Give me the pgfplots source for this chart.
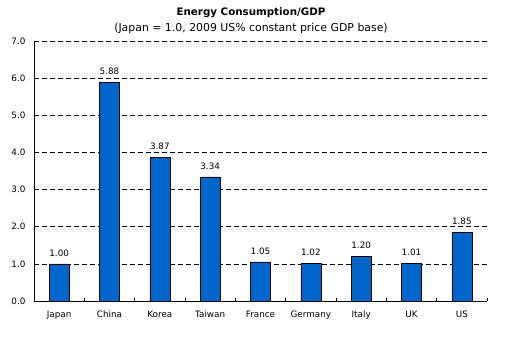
\documentclass[border=0pt]{standalone}
\usepackage{pgfplots}
\pgfplotsset{compat=1.18}
\usepackage{fontspec}
\setmainfont{DejaVu Sans}
\definecolor{barblue}{HTML}{0066CC}
\begin{document}
\begin{tikzpicture}[x=1pt,y=1pt]
\useasboundingbox (0,0) rectangle (514,344);
\node[font=\bfseries\fontsize{10.3}{11}\selectfont] at (251,331) {Energy Consumption/GDP};
\node[font=\fontsize{10.9}{12}\selectfont] at (251,315.5) {(Japan = 1.0, 2009 US\% constant price GDP base)};
\begin{axis}[
  at={(34pt,43pt)}, anchor=south west,
  scale only axis, width=453pt, height=260pt,
  xmin=-0.5, xmax=8.5, ymin=0, ymax=7,
  axis x line*=bottom, axis y line*=left,
  axis line style={black, line width=0.8pt, -},
  xtick={0,...,8},
  xticklabels={Japan,China,Korea,Taiwan,France,Germany,Italy,UK,US},
  major x tick style={draw=none},
  minor xtick={0.5,1.5,...,8.5},
  minor x tick style={black, line width=0.6pt},
  minor tick length=3pt,
  tick align=inside,
  ytick={0,1,...,7},
  major y tick style={draw=none},
  ymajorgrids, major grid style={black, dash pattern=on 5pt off 3pt, line width=0.6pt},
  yticklabel style={xshift=-5pt, /pgf/number format/.cd, fixed, fixed zerofill, precision=1},
  /pgf/number format/assume math mode=true,
  tick label style={font=\fontsize{8.8}{10}\selectfont, text=black},
  xticklabel style={yshift=-6.5pt},
  bar width=20pt,
  nodes near coords,
  nodes near coords style={font=\fontsize{8.8}{10}\selectfont, yshift=4pt, /pgf/number format/.cd, fixed, fixed zerofill, precision=2},
  clip=false,
]
\addplot[ybar, fill=barblue, draw=black, line width=0.6pt] coordinates {
(0,1.00) (1,5.88) (2,3.87) (3,3.34) (4,1.05) (5,1.02) (6,1.20) (7,1.01) (8,1.85)};
\end{axis}
\end{tikzpicture}
\end{document}
